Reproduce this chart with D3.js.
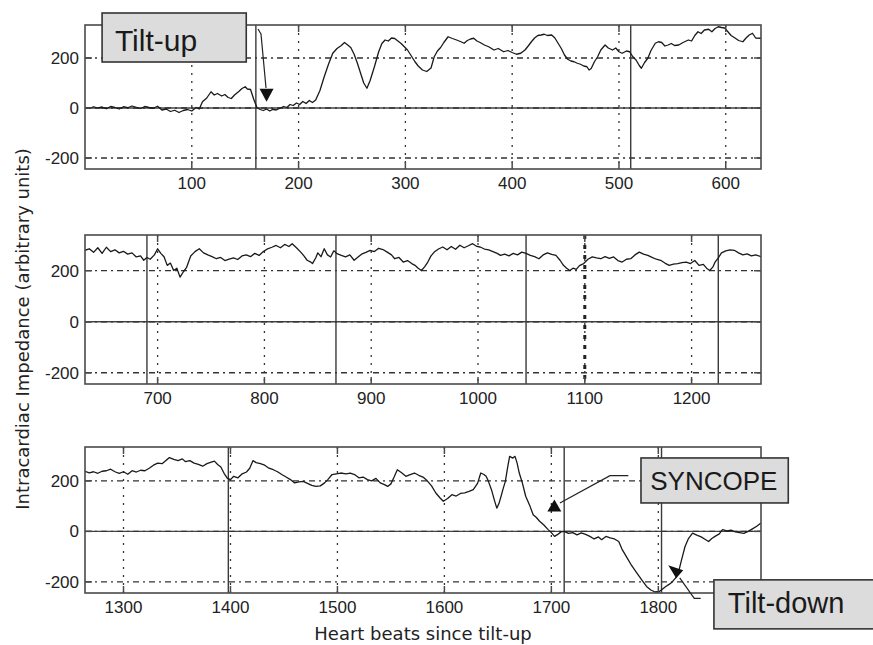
<!DOCTYPE html>
<html>
<head>
<meta charset="utf-8">
<script src="https://cdn.jsdelivr.net/npm/d3@7"></script>
<style>
  body { margin: 0; background: #fff; }
  svg { display: block; }
</style>
</head>
<body>
<div id="chart"></div>
<script>
// beat number, impedance value
const trace1 = [[0,3],[4,-2],[8,5],[12,0],[16,4],[20,-3],[24,6],[28,2],[32,-4],[36,5],[40,1],[44,8],[48,3],[52,-2],[56,6],[60,2],[64,-1],[68,7],[72,-8],[76,-4],[80,-14],[84,-9],[88,-18],[92,-10],[96,-6],[100,-12],[104,2],[107,-4],[110,25],[114,40],[118,65],[121,52],[124,58],[128,48],[131,54],[134,42],[137,38],[140,52],[144,66],[147,78],[150,85],[152,76],[155,74],[158,35],[161,2],[164,-6],[167,-10],[170,-4],[173,-12],[176,-5],[179,-8],[182,-2],[186,6],[189,2],[192,14],[195,10],[198,20],[201,14],[204,26],[207,18],[210,30],[213,22],[216,32],[220,70],[224,125],[228,175],[232,219],[236,238],[240,250],[243,262],[246,252],[249,241],[252,215],[255,180],[258,140],[261,100],[264,79],[267,110],[271,165],[275,225],[278,258],[281,272],[284,268],[287,280],[290,278],[293,268],[296,258],[299,245],[302,232],[305,212],[309,185],[312,168],[316,152],[320,146],[324,160],[327,205],[330,228],[333,242],[336,262],[340,285],[344,278],[348,272],[352,265],[355,259],[358,270],[361,276],[364,279],[367,268],[370,262],[374,252],[378,245],[383,232],[387,238],[392,225],[396,230],[400,222],[404,215],[408,219],[412,232],[415,248],[418,265],[421,280],[424,290],[427,292],[430,295],[433,290],[437,292],[440,280],[443,259],[446,238],[449,212],[452,195],[455,188],[458,185],[461,179],[464,175],[467,168],[470,165],[472,152],[474,158],[477,185],[480,205],[483,232],[487,252],[490,240],[494,232],[497,240],[500,225],[503,219],[507,228],[510,225],[513,205],[516,192],[519,170],[521,159],[524,182],[527,199],[530,230],[534,259],[537,265],[540,262],[543,248],[546,252],[549,258],[552,250],[556,252],[560,262],[565,272],[568,268],[571,290],[574,305],[577,298],[580,312],[584,315],[587,305],[590,318],[593,325],[596,322],[599,320],[602,305],[605,290],[609,279],[612,270],[616,265],[619,280],[622,292],[625,299],[628,280],[633,279]];

const trace2 = [[632,280],[636,286],[640,272],[644,290],[648,268],[652,292],[656,275],[660,282],[664,270],[668,276],[672,265],[676,270],[680,254],[684,258],[687,241],[690,252],[693,245],[697,262],[700,286],[703,268],[706,255],[709,221],[712,230],[715,201],[718,210],[721,175],[724,195],[727,212],[731,258],[735,275],[739,286],[743,270],[747,262],[751,255],[755,247],[759,252],[763,240],[767,245],[771,250],[775,244],[779,258],[783,262],[787,255],[791,268],[795,260],[799,275],[803,286],[807,292],[811,299],[815,290],[819,303],[823,295],[826,306],[830,290],[834,273],[837,258],[840,241],[843,235],[845,228],[848,250],[850,270],[853,255],[856,286],[859,262],[862,254],[865,278],[868,267],[872,260],[876,254],[880,262],[884,241],[888,255],[891,265],[895,272],[899,280],[903,275],[907,288],[911,283],[915,273],[919,262],[922,247],[926,252],[930,234],[934,240],[938,228],[941,221],[944,210],[947,201],[950,215],[953,234],[956,258],[959,273],[963,285],[967,293],[971,282],[975,295],[979,284],[983,300],[987,290],[991,298],[995,306],[999,295],[1002,293],[1006,285],[1010,282],[1014,275],[1018,268],[1021,260],[1025,265],[1029,258],[1033,268],[1037,262],[1041,273],[1045,268],[1049,260],[1053,255],[1057,247],[1061,262],[1065,270],[1069,264],[1073,260],[1077,240],[1080,221],[1083,210],[1086,201],[1089,210],[1092,205],[1095,220],[1099,228],[1103,245],[1107,254],[1111,250],[1115,247],[1119,255],[1123,248],[1127,254],[1131,240],[1135,234],[1139,245],[1143,247],[1147,262],[1151,273],[1155,265],[1159,260],[1163,252],[1167,245],[1171,241],[1175,230],[1179,221],[1183,226],[1187,228],[1191,232],[1195,234],[1199,228],[1203,240],[1207,221],[1211,225],[1214,210],[1217,201],[1220,215],[1222,234],[1225,250],[1228,270],[1232,278],[1236,282],[1240,280],[1244,270],[1248,262],[1252,266],[1256,258],[1260,262],[1266,254]];

const trace3 = [[1264,238],[1268,232],[1272,236],[1276,230],[1280,238],[1284,240],[1288,246],[1292,236],[1296,230],[1300,236],[1304,226],[1308,240],[1312,235],[1316,242],[1320,240],[1324,250],[1328,262],[1332,270],[1336,268],[1340,282],[1343,292],[1347,285],[1351,280],[1355,287],[1358,276],[1362,280],[1366,270],[1370,265],[1374,258],[1378,268],[1382,274],[1385,278],[1388,265],[1391,255],[1394,230],[1397,211],[1400,205],[1403,218],[1407,212],[1411,228],[1415,235],[1418,250],[1421,280],[1424,272],[1428,268],[1432,262],[1436,250],[1440,244],[1444,236],[1448,225],[1452,215],[1456,205],[1460,192],[1464,196],[1468,198],[1472,190],[1476,182],[1480,178],[1484,180],[1488,192],[1491,205],[1495,225],[1499,228],[1503,231],[1508,228],[1512,231],[1516,225],[1520,212],[1524,215],[1528,205],[1532,200],[1536,210],[1540,192],[1544,185],[1547,178],[1550,188],[1553,215],[1556,244],[1560,232],[1564,218],[1568,225],[1572,231],[1576,222],[1580,215],[1584,200],[1588,180],[1592,152],[1596,132],[1599,119],[1603,130],[1607,145],[1611,140],[1615,150],[1619,152],[1623,158],[1627,165],[1631,190],[1634,231],[1637,225],[1639,218],[1641,200],[1644,165],[1647,120],[1649,92],[1651,110],[1653,139],[1655,170],[1657,198],[1659,250],[1661,297],[1664,290],[1666,297],[1668,270],[1670,231],[1673,190],[1676,139],[1680,100],[1683,66],[1686,55],[1689,40],[1693,25],[1697,7],[1700,-5],[1703,-20],[1706,-12],[1709,-2],[1712,0],[1716,-8],[1720,-5],[1724,-14],[1728,-6],[1732,-12],[1736,-20],[1740,-30],[1744,-22],[1747,-33],[1751,-20],[1755,-26],[1759,-30],[1763,-40],[1766,-70],[1770,-99],[1775,-135],[1780,-165],[1785,-195],[1789,-218],[1793,-232],[1797,-240],[1801,-238],[1804,-228],[1807,-218],[1810,-210],[1813,-200],[1816,-185],[1819,-160],[1821,-125],[1823,-92],[1825,-60],[1828,-30],[1832,-7],[1836,-15],[1840,-22],[1844,-32],[1847,-40],[1850,-28],[1853,-20],[1857,-10],[1860,7],[1864,2],[1868,5],[1872,-2],[1876,-5],[1880,-8],[1884,0],[1888,10],[1892,20],[1896,33]];

const yTicks = [-200, 0, 200];
const xTicks1 = [100, 200, 300, 400, 500, 600];
const xTicks2 = [700, 800, 900, 1000, 1100, 1200];
const xTicks3 = [1300, 1400, 1500, 1600, 1700, 1800];

// event markers (solid vertical lines)
const events1 = [160, 511];
const events2 = [690, 867, 1045, 1225];
const events3 = [1398, 1712, 1803];
const dashedEvents2 = [1100];

let width = 873, height = 645;
let left = 85, right = 761;

let panels = [
  {trace: trace1, xDomain: [0, 633], yDomain: [-244, 332], top: 25, bottom: 169, ticks: xTicks1, events: events1, dashed: []},
  {trace: trace2, xDomain: [632, 1265], yDomain: [-244, 340], top: 235, bottom: 384, ticks: xTicks2, events: events2, dashed: dashedEvents2},
  {trace: trace3, xDomain: [1264, 1896], yDomain: [-244, 334], top: 447, bottom: 593, ticks: xTicks3, events: events3, dashed: []}
];

let svg = d3.select("#chart")
            .append("svg")
            .attr("width", width)
            .attr("height", height);

let frameColor = "#4a4a4a";
let tickFont = "'Liberation Sans', Arial, sans-serif";

panels.forEach(function(p, i){
  p.x = d3.scaleLinear().domain(p.xDomain).range([left, right]);
  p.y = d3.scaleLinear().domain(p.yDomain).range([p.bottom, p.top]);

  let g = svg.append("g");

  svg.append("clipPath")
     .attr("id", "clip" + i)
     .append("rect")
     .attr("x", left).attr("y", p.top)
     .attr("width", right - left).attr("height", p.bottom - p.top);

  //grid lines
  g.selectAll(".vgrid")
    .data(p.ticks)
    .enter()
    .append("line")
    .attr("x1", d => p.x(d)).attr("x2", d => p.x(d))
    .attr("y1", p.top).attr("y2", p.bottom)
    .style("stroke", "#333")
    .style("stroke-width", 1.3)
    .style("stroke-dasharray", "2,6");

  // zero line is drawn solid
  g.append("line")
    .attr("x1", left).attr("x2", right)
    .attr("y1", p.y(0)).attr("y2", p.y(0))
    .style("stroke", "#444")
    .style("stroke-width", 1.3);

  g.selectAll(".hgrid")
    .data(yTicks)
    .enter()
    .append("line")
    .attr("x1", left).attr("x2", right)
    .attr("y1", d => p.y(d)).attr("y2", d => p.y(d))
    .style("stroke", "#333")
    .style("stroke-width", 1.3)
    .style("stroke-dasharray", "6,4,2,4");

  //event lines
  g.selectAll(".event")
    .data(p.events)
    .enter()
    .append("line")
    .attr("x1", d => p.x(d)).attr("x2", d => p.x(d))
    .attr("y1", p.top).attr("y2", p.bottom)
    .style("stroke", "#3a3a3a")
    .style("stroke-width", 1.4);

  g.selectAll(".devent")
    .data(p.dashed)
    .enter()
    .append("line")
    .attr("x1", d => p.x(d)).attr("x2", d => p.x(d))
    .attr("y1", p.top).attr("y2", p.bottom)
    .style("stroke", "#222")
    .style("stroke-width", 3)
    .style("stroke-dasharray", "4,6");

  //the trace
  let line = d3.line()
               .x(d => p.x(d[0]))
               .y(d => p.y(d[1]));

  g.append("path")
    .datum(p.trace)
    .attr("clip-path", "url(#clip" + i + ")")
    .attr("d", line)
    .style("fill", "none")
    .style("stroke", "#1a1a1a")
    .style("stroke-width", 1.3)
    .style("stroke-linejoin", "round");

  //frame
  g.append("rect")
    .attr("x", left).attr("y", p.top)
    .attr("width", right - left).attr("height", p.bottom - p.top)
    .style("fill", "none")
    .style("stroke", frameColor)
    .style("stroke-width", 1.6);

  //ticks inside on all four sides
  let tl = 7;
  yTicks.forEach(function(t){
    g.append("line").attr("x1", left).attr("x2", left + tl)
      .attr("y1", p.y(t)).attr("y2", p.y(t))
      .style("stroke", frameColor).style("stroke-width", 1.5);
    g.append("line").attr("x1", right - tl).attr("x2", right)
      .attr("y1", p.y(t)).attr("y2", p.y(t))
      .style("stroke", frameColor).style("stroke-width", 1.5);
  });
  p.ticks.forEach(function(t){
    g.append("line").attr("x1", p.x(t)).attr("x2", p.x(t))
      .attr("y1", p.bottom).attr("y2", p.bottom - tl)
      .style("stroke", frameColor).style("stroke-width", 1.5);
    g.append("line").attr("x1", p.x(t)).attr("x2", p.x(t))
      .attr("y1", p.top).attr("y2", p.top + tl)
      .style("stroke", frameColor).style("stroke-width", 1.5);
  });

  //tick labels
  g.selectAll(".ylab")
    .data(yTicks)
    .enter()
    .append("text")
    .attr("x", left - 6)
    .attr("y", d => p.y(d) + 6)
    .attr("text-anchor", "end")
    .style("font-family", tickFont)
    .style("font-size", "17px")
    .style("fill", "#222")
    .text(d => d);

  g.selectAll(".xlab")
    .data(p.ticks)
    .enter()
    .append("text")
    .attr("x", d => p.x(d))
    .attr("y", p.bottom + 20)
    .attr("text-anchor", "middle")
    .style("font-family", tickFont)
    .style("font-size", "17px")
    .style("fill", "#222")
    .text(d => d);
});

//axis titles
svg.append("text")
   .attr("transform", "translate(29,329) rotate(-90)")
   .attr("text-anchor", "middle")
   .style("font-family", "'DejaVu Sans', Verdana, sans-serif")
   .style("font-size", "18px")
   .style("fill", "#222")
   .text("Intracardiac Impedance (arbitrary units)");

svg.append("text")
   .attr("x", 423)
   .attr("y", 640)
   .attr("text-anchor", "middle")
   .style("font-family", "'DejaVu Sans', Verdana, sans-serif")
   .style("font-size", "18px")
   .style("fill", "#222")
   .text("Heart beats since tilt-up");

// annotations, placed in the data units of their panel
let notes = [
  {panel: 0, label: "Tilt-up", size: 30, box: [16, 380, 151, 184], text: [28, 230],
   leader: [[162, 316], [164.8, 296], [169.5, 80]], head: {at: [170, 25], dir: "down"}},
  {panel: 2, label: "SYNCOPE", size: 26, box: [1783.8, 290.6, 1921.5, 112.5], text: [1792.5, 164],
   leader: [[1772, 220.5], [1754.8, 220.5], [1708, 112]], head: {at: [1702.8, 126], dir: "up"}},
  {panel: 2, label: "Tilt-down", size: 29, box: [1852, -192, 2002, -386], text: [1865, -323],
   leader: [[1839.6, -265], [1833.6, -265], [1820, -184.5]], head: {at: [1813, -138], dir: "upleft"}}
];

notes.forEach(function(n){
  let p = panels[n.panel];
  let g = svg.append("g");

  g.append("path")
    .attr("d", d3.line()(n.leader.map(d => [p.x(d[0]), p.y(d[1])])))
    .style("fill", "none")
    .style("stroke", "#222")
    .style("stroke-width", 1.2);

  let hx = p.x(n.head.at[0]), hy = p.y(n.head.at[1]);
  let tri;
  if(n.head.dir == "down"){
    tri = [[hx, hy], [hx - 7, hy - 13], [hx + 7, hy - 13]];
  }else if(n.head.dir == "up"){
    tri = [[hx, hy], [hx - 7, hy + 12], [hx + 7, hy + 12]];
  }else{
    tri = [[hx - 4, hy - 1], [hx + 11, hy + 4], [hx + 4, hy + 12]];
  }
  g.append("path")
    .attr("d", d3.line()(tri) + "Z")
    .style("fill", "#111");

  let x0 = p.x(n.box[0]), x1 = p.x(n.box[2]);
  let y0 = p.y(n.box[1]), y1 = p.y(n.box[3]);
  g.append("rect")
    .attr("x", x0).attr("y", y0)
    .attr("width", x1 - x0).attr("height", y1 - y0)
    .style("fill", "#dcdcdc")
    .style("stroke", "#333")
    .style("stroke-width", 1.6);

  g.append("text")
    .attr("x", p.x(n.text[0]))
    .attr("y", p.y(n.text[1]))
    .style("font-family", tickFont)
    .style("font-size", n.size + "px")
    .style("fill", "#1a1a1a")
    .text(n.label);
});
</script>
</body>
</html>
